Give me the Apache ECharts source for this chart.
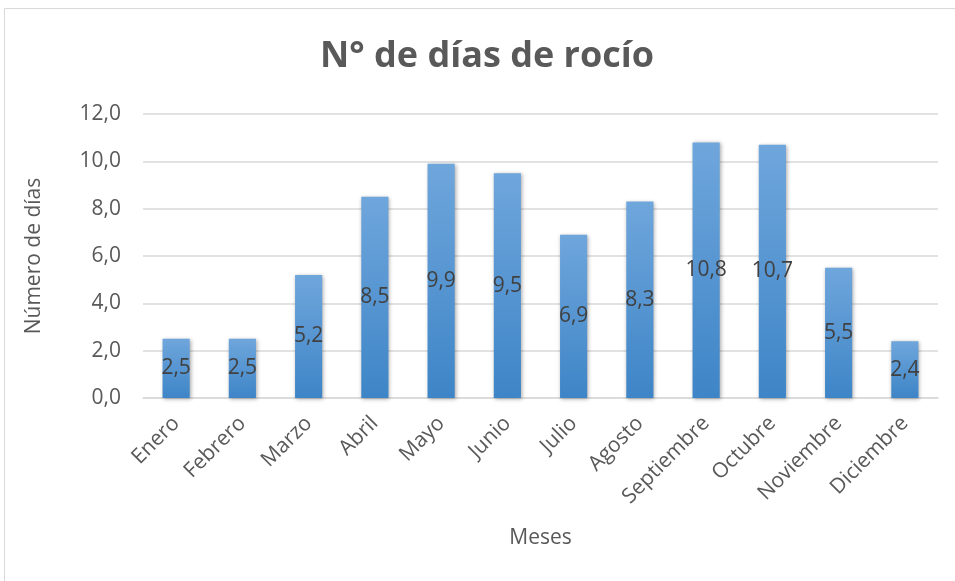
<!DOCTYPE html>
<html><head><meta charset="utf-8">
<script src="https://cdn.jsdelivr.net/npm/echarts@6/dist/echarts.min.js"></script>
<style>html,body{margin:0;padding:0;background:#fff}#c{width:955px;height:581px}</style>
</head><body><div id="c"></div>
<script>
const categories = ['Enero','Febrero','Marzo','Abril','Mayo','Junio','Julio','Agosto','Septiembre','Octubre','Noviembre','Diciembre'];
const values = [2.5, 2.5, 5.2, 8.5, 9.9, 9.5, 6.9, 8.3, 10.8, 10.7, 5.5, 2.4];
const yTicks = {min: 0, max: 12, interval: 2};
const titleText = 'N° de días de rocío';
const xName = 'Meses';
const yName = 'Número de días';

const fmt = v => Number(v).toFixed(1).replace('.', ',');
const FONT = 'Open Sans';
const chart = echarts.init(document.getElementById('c'));
chart.setOption({
  backgroundColor: '#fff',
  animation: false,
  graphic: [{type: 'rect', shape: {x: 4.5, y: 8.5, width: 960, height: 580}, style: {fill: 'none', stroke: '#d9d9d9', lineWidth: 1}, silent: true}],
  title: {text: titleText, left: 315, top: 34, textStyle: {fontFamily: FONT, fontSize: 36, fontWeight: 'bold', color: '#595959'}},
  grid: {left: 143, right: 17, top: 114, bottom: 183},
  xAxis: {
    type: 'category', data: categories,
    name: xName, nameLocation: 'middle', nameGap: 130,
    nameTextStyle: {fontFamily: FONT, fontSize: 21, color: '#595959'},
    axisLine: {lineStyle: {color: '#d9d9d9', width: 1.5}},
    axisTick: {show: false},
    axisLabel: {rotate: 45, margin: 22, fontFamily: FONT, fontSize: 21, color: '#595959', interval: 0}
  },
  yAxis: {
    type: 'value', min: yTicks.min, max: yTicks.max, interval: yTicks.interval,
    name: yName, nameLocation: 'middle', nameGap: 98,
    nameTextStyle: {fontFamily: FONT, fontSize: 21, color: '#595959'},
    axisLine: {show: false}, axisTick: {show: false},
    splitLine: {lineStyle: {color: '#d9d9d9', width: 1.5}},
    axisLabel: {formatter: fmt, margin: 22, fontFamily: FONT, fontSize: 21, color: '#595959'}
  },
  series: [{
    type: 'bar', data: values, barWidth: '41%',
    itemStyle: {
      color: new echarts.graphic.LinearGradient(0, 0, 0, 1, [{offset: 0, color: '#6fa6dc'}, {offset: 1, color: '#3e85c7'}]),
      shadowColor: 'rgba(0,0,0,0.35)', shadowBlur: 4, shadowOffsetX: 1, shadowOffsetY: 1
    },
    label: {show: true, position: 'inside', formatter: p => fmt(p.value), fontFamily: FONT, fontSize: 21, color: '#404040'}
  }]
});
</script></body></html>
